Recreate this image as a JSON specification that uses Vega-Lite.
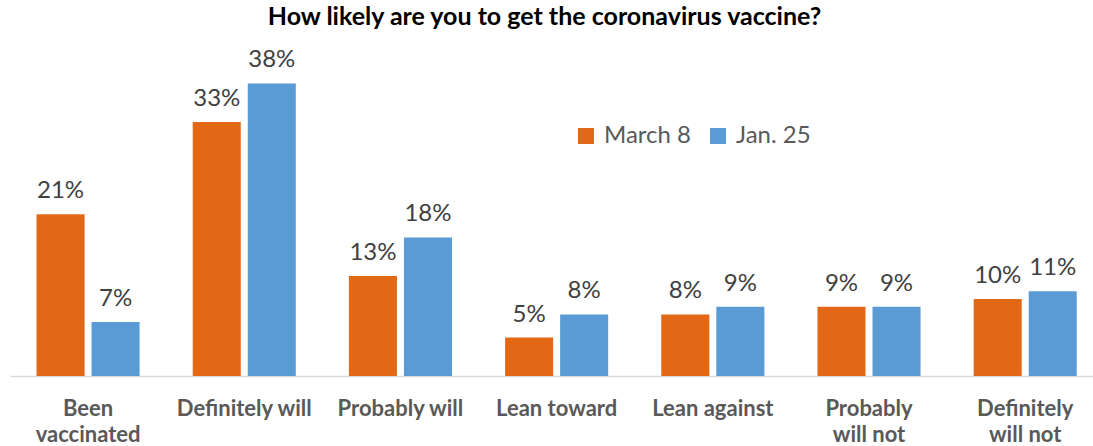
{
  "$schema": "https://vega.github.io/schema/vega-lite/v6.json",
  "width": 1083,
  "height": 308,
  "autosize": {"type": "none"},
  "padding": {"left": 10, "top": 68, "right": 0, "bottom": 70},
  "background": "white",
  "title": {
    "text": "How likely are you to get the coronavirus vaccine?",
    "font": "Lato",
    "fontSize": 25,
    "fontWeight": "bold",
    "color": "#000000",
    "offset": 18,
    "anchor": "middle",
    "dx": -7
  },
  "config": {"view": {"stroke": null}},
  "data": {
    "values": [
      {"category": "Been vaccinated", "series": "March 8", "value": 0.21},
      {"category": "Been vaccinated", "series": "Jan. 25", "value": 0.07},
      {"category": "Definitely will", "series": "March 8", "value": 0.33},
      {"category": "Definitely will", "series": "Jan. 25", "value": 0.38},
      {"category": "Probably will", "series": "March 8", "value": 0.13},
      {"category": "Probably will", "series": "Jan. 25", "value": 0.18},
      {"category": "Lean toward", "series": "March 8", "value": 0.05},
      {"category": "Lean toward", "series": "Jan. 25", "value": 0.08},
      {"category": "Lean against", "series": "March 8", "value": 0.08},
      {"category": "Lean against", "series": "Jan. 25", "value": 0.09},
      {"category": "Probably will not", "series": "March 8", "value": 0.09},
      {"category": "Probably will not", "series": "Jan. 25", "value": 0.09},
      {"category": "Definitely will not", "series": "March 8", "value": 0.10},
      {"category": "Definitely will not", "series": "Jan. 25", "value": 0.11}
    ]
  },
  "encoding": {
    "x": {
      "field": "category",
      "type": "nominal",
      "sort": null,
      "scale": {"paddingInner": 0.34, "paddingOuter": 0.137, "align": 0.62},
      "axis": {
        "title": null,
        "labelAngle": 0,
        "labelFont": "Lato",
        "labelFontSize": 22,
        "labelFontWeight": "bold",
        "labelColor": "#595959",
        "labelPadding": 32,
        "labelLineHeight": 26,
        "labelBaseline": "middle",
        "ticks": false,
        "domainColor": "#d9d9d9",
        "domainWidth": 1.5,
        "labelExpr": "datum.value == 'Been vaccinated' ? ['Been', 'vaccinated'] : datum.value == 'Probably will not' ? ['Probably', 'will not'] : datum.value == 'Definitely will not' ? ['Definitely', 'will not'] : datum.value"
      }
    },
    "xOffset": {
      "field": "series",
      "type": "nominal",
      "sort": ["March 8", "Jan. 25"],
      "scale": {"paddingInner": 0.127, "paddingOuter": 0}
    },
    "y": {
      "field": "value",
      "type": "quantitative",
      "scale": {"domain": [0, 0.4]},
      "axis": null
    }
  },
  "layer": [
    {
      "mark": {"type": "bar"},
      "encoding": {
        "color": {
          "field": "series",
          "type": "nominal",
          "sort": ["March 8", "Jan. 25"],
          "scale": {"domain": ["March 8", "Jan. 25"], "range": ["#E26816", "#5B9BD5"]},
          "legend": {
            "title": null,
            "orient": "none",
            "legendX": 564,
            "legendY": 56,
            "direction": "horizontal",
            "symbolType": "square",
            "symbolSize": 256,
            "symbolStrokeWidth": 0,
            "labelFont": "Lato",
            "labelFontSize": 24,
            "labelColor": "#595959",
            "labelOffset": 6,
            "columnPadding": 14
          }
        }
      }
    },
    {
      "mark": {"type": "text", "baseline": "bottom", "dy": -11, "font": "Lato", "fontSize": 24, "color": "#404040"},
      "encoding": {
        "text": {"field": "value", "type": "quantitative", "format": ".0%"}
      }
    }
  ]
}
